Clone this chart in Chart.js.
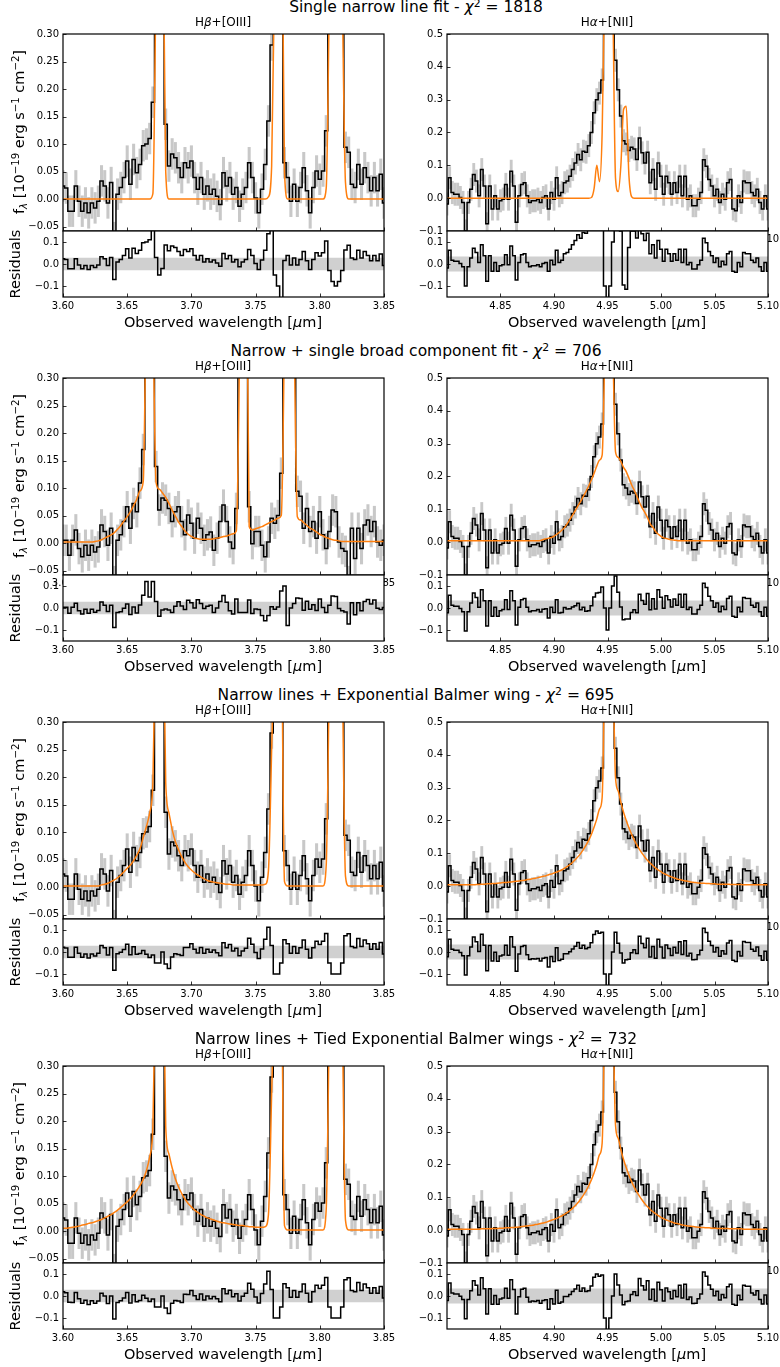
<!DOCTYPE html>
<html>
<head>
<meta charset="utf-8">
<script src="https://cdn.jsdelivr.net/npm/chart.js@4.4.0/dist/chart.umd.min.js"></script>
<style>
  body { margin: 0; background: #fff; width: 780px; height: 1367px; position: relative; overflow: hidden; font-family: "DejaVu Sans", sans-serif; }
  canvas { position: absolute; }
  .t { position: absolute; white-space: nowrap; color: #000; z-index: 5; line-height: 1; }
  .t sup { font-size: 70%; position: relative; top: -0.5em; line-height: 0; vertical-align: baseline; }
  .t sub { font-size: 70%; position: relative; top: 0.3em; line-height: 0; vertical-align: baseline; }
</style>
</head>
<body>
<script>
// --- spectral grids (uniform pixel grid) ---
const waveStartL = 3.600, waveStartR = 4.800, waveStep = 0.0025;

// Hb+[OIII] spectrum, rows 1, 3, 4
const fluxA = [
  0.024, 0.020, -0.022, -0.022, 0.024, -0.004, -0.022, -0.007, -0.025, -0.007,
  -0.016, -0.004, 0.033, 0.024, -0.007, 0.030, -0.070, 0.009, 0.021, 0.039,
  0.069, 0.027, 0.072, 0.048, 0.063, 0.097, 0.100, 0.110, 0.176, 0.450,
  0.900, 0.600, 0.136, 0.060, 0.082, 0.075, 0.057, 0.039, 0.066, 0.057,
  0.069, 0.039, 0.018, 0.039, 0.009, 0.024, 0.009, 0.018, 0.005, -0.010,
  0.048, 0.024, 0.039, 0.009, 0.021, -0.013, 0.009, 0.021, 0.066, 0.039,
  0.002, -0.025, 0.018, 0.063, 0.142, 0.280, 0.400, 0.900, 0.500, 0.066,
  0.039, -0.004, 0.027, -0.004, 0.021, 0.057, 0.015, -0.025, 0.021, 0.051,
  0.036, 0.051, 0.124, 0.350, 0.700, 0.900, 0.700, 0.350, 0.094, 0.085,
  0.027, 0.021, 0.063, 0.027, 0.057, 0.039, 0.015, 0.039, 0.015, 0.045,
  -0.007
];
// Hb+[OIII] spectrum as shown in row 2
const fluxB = [
  0.005, 0.005, -0.022, 0.005, 0.024, -0.010, -0.025, -0.004, -0.022, -0.004,
  -0.016, -0.007, 0.033, 0.021, -0.004, 0.027, -0.070, 0.005, 0.015, 0.039,
  0.066, 0.027, 0.072, 0.057, 0.109, 0.170, 0.620, 1.050, 0.570, 0.139,
  0.060, 0.082, 0.078, 0.063, 0.039, 0.057, 0.066, 0.039, 0.015, 0.051,
  0.036, 0.009, 0.045, 0.027, 0.005, 0.015, 0.020, -0.013, 0.009, 0.039,
  0.069, 0.039, 0.002, -0.010, 0.063, 0.330, 0.930, 0.680, 0.066, -0.001,
  0.021, 0.021, -0.004, -0.025, 0.002, 0.045, 0.036, 0.050, 0.127, 0.500,
  1.020, 1.000, 0.420, 0.094, 0.085, 0.027, 0.063, 0.021, 0.039, 0.009,
  0.057, 0.015, -0.010, 0.021, 0.060, 0.057, 0.002, -0.010, -0.015, -0.070,
  0.027, -0.028, 0.027, -0.010, 0.033, 0.042, 0.021, 0.039, 0.002, -0.004,
  0.005
];
// Ha+[NII] spectrum
const fluxR = [
  -0.018, 0.062, 0.017, 0.012, 0.012, 0.002, -0.013, -0.100, -0.013, 0.027,
  0.072, 0.052, 0.007, 0.087, 0.037, -0.078, 0.037, -0.033, 0.007, -0.033,
  -0.008, -0.003, 0.042, -0.003, 0.082, 0.037, -0.073, 0.007, 0.042, 0.047,
  0.007, -0.013, -0.008, -0.008, -0.003, -0.013, 0.002, 0.007, -0.033, 0.017,
  -0.003, 0.062, 0.007, 0.017, 0.047, 0.052, 0.067, 0.087, 0.107, 0.133,
  0.117, 0.143, 0.140, 0.160, 0.200, 0.260, 0.300, 0.320, 0.360, 0.600,
  1.000, 1.000, 0.700, 0.420, 0.330, 0.250, 0.175, 0.165, 0.145, 0.155,
  0.150, 0.118, 0.183, 0.138, 0.107, 0.140, 0.047, 0.087, 0.027, 0.107,
  0.067, 0.012, 0.067, 0.047, 0.012, 0.047, 0.017, 0.067, 0.007, 0.067,
  -0.003, 0.007, -0.023, -0.023, -0.003, 0.017, 0.117, 0.097, 0.057, 0.037,
  0.007, 0.027, -0.013, 0.012, -0.003, 0.047, 0.057, -0.033, -0.038, 0.007,
  -0.013, 0.052, 0.047, 0.047, 0.017, 0.007, 0.027, -0.013, -0.033, 0.007,
  -0.033
];
const errL = 0.028, errR = 0.034;

// --- fitted models, one per row ---
const modelL1 = [
  0,0,0,0,0,0,0,0,0,0, 0,0,0,0,0,0,0,0,0,0,
  0,0,0,0,0,0,0,0,0.010,0.420, 0.950,0.620,0.050,0,0,0,0,0,0,0,
  0,0,0,0,0,0,0,0,0,0, 0,0,0,0,0,0,0,0,0,0,
  0,0,0,0,0.004,0.060,0.450,1.000,0.700,0.050, 0,0,0,0,0,0,0,0,0,0,
  0,0,0.020,0.380,0.780,1.000,0.780,0.380,0.030,0, 0,0,0,0,0,0,0,0,0,0,
  0
];
const modelL2 = [
  0.002,0.002,0.002,0.002,0.002,0.002,0.002,0.002,0.002,0.002,
  0.003,0.004,0.006,0.009,0.012,0.015,0.019,0.025,0.032,0.040,
  0.048,0.057,0.068,0.080,0.095,0.112,0.500,1.000,0.450,0.110,
  0.098,0.091,0.083,0.072,0.060,0.049,0.038,0.030,0.022,0.016,
  0.012,0.009,0.008,0.007,0.007,0.007,0.007,0.008,0.009,0.010,
  0.012,0.013,0.015,0.017,0.022,0.350,0.950,0.700,0.030,0.024,
  0.026,0.028,0.030,0.033,0.036,0.039,0.042,0.045,0.050,0.400,
  1.100,1.000,0.400,0.048,0.042,0.037,0.032,0.027,0.024,0.020,
  0.016,0.013,0.010,0.008,0.006,0.005,0.004,0.003,0.003,0.003,
  0.003,0.003,0.003,0.003,0.003,0.003,0.003,0.003,0.003,0.003,
  0.003
];
const modelL3 = [
  0.002,0.002,0.002,0.002,0.002,0.002,0.002,0.002,0.002,0.002,
  0.002,0.002,0.004,0.005,0.007,0.010,0.013,0.017,0.022,0.028,
  0.034,0.040,0.048,0.058,0.070,0.090,0.110,0.135,0.190,0.500,
  0.950,0.600,0.190,0.135,0.105,0.083,0.068,0.055,0.045,0.037,
  0.031,0.026,0.022,0.018,0.015,0.012,0.010,0.009,0.008,0.007,
  0.006,0.005,0.005,0.004,0.004,0.004,0.004,0.004,0.004,0.004,
  0.004,0.004,0.004,0.005,0.030,0.250,0.500,1.000,0.550,0.010,
  0.002,0.002,0.002,0.002,0.002,0.002,0.002,0.002,0.002,0.002,
  0.002,0.002,0.040,0.400,0.800,1.000,0.800,0.400,0.020,0.002,
  0.002,0.002,0.002,0.002,0.002,0.002,0.002,0.002,0.002,0.002,
  0.002
];
const modelL4 = [
  0.005,0.005,0.006,0.007,0.008,0.009,0.011,0.012,0.014,0.015,
  0.017,0.019,0.021,0.024,0.027,0.030,0.034,0.038,0.043,0.048,
  0.053,0.059,0.066,0.074,0.083,0.094,0.110,0.135,0.190,0.500,
  0.950,0.600,0.190,0.140,0.115,0.095,0.080,0.068,0.058,0.050,
  0.044,0.038,0.034,0.030,0.027,0.024,0.022,0.020,0.018,0.016,
  0.015,0.014,0.013,0.012,0.011,0.010,0.010,0.009,0.008,0.008,
  0.007,0.007,0.007,0.008,0.030,0.250,0.500,1.000,0.550,0.010,
  0.002,0.002,0.002,0.002,0.002,0.002,0.002,0.002,0.002,0.002,
  0.002,0.002,0.040,0.400,0.800,1.000,0.800,0.400,0.020,0.002,
  0.002,0.002,0.002,0.002,0.002,0.002,0.002,0.002,0.002,0.002,
  0.002
];
const modelR1 = [
  0,0,0,0,0,0,0,0,0,0, 0,0,0,0,0,0,0,0,0,0, 0,0,0,0,0,0,0,0,0,0,
  0,0,0,0,0,0,0,0,0,0, 0,0,0,0,0,0,0,0,0,0,
  0,0,0,0,0.002,0.030,0.100,0.050,0.200,0.700,
  1.200,1.100,0.600,0.060,0.020,0.100,0.270,0.280,0.070,0.005,
  0,0,0,0,0,0,0,0,0,0, 0,0,0,0,0,0,0,0,0,0, 0,0,0,0,0,0,0,0,0,0,
  0,0,0,0,0,0,0,0,0,0, 0,0,0,0,0,0,0,0,0,0,
  0
];
const modelR2 = [
  0.004,0.004,0.004,0.004,0.004,0.004,0.004,0.004,0.004,0.004,
  0.004,0.004,0.004,0.004,0.004,0.004,0.004,0.004,0.004,0.004,
  0.004,0.004,0.004,0.004,0.004,0.004,0.004,0.004,0.004,0.004,
  0.004,0.004,0.004,0.004,0.004,0.005,0.008,0.010,0.012,0.014,
  0.018,0.024,0.030,0.037,0.045,0.057,0.070,0.083,0.097,0.111,
  0.125,0.140,0.155,0.172,0.190,0.210,0.232,0.250,0.265,0.600,
  1.100,1.000,0.600,0.275,0.258,0.245,0.228,0.215,0.195,0.175,
  0.158,0.140,0.120,0.104,0.090,0.074,0.055,0.045,0.032,0.024,
  0.018,0.013,0.011,0.009,0.007,0.006,0.005,0.004,0.004,0.004,
  0.004,0.004,0.004,0.004,0.004,0.004,0.004,0.004,0.004,0.004,
  0.004,0.004,0.004,0.004,0.004,0.004,0.004,0.004,0.004,0.004,
  0.004,0.004,0.004,0.004,0.004,0.004,0.004,0.004,0.004,0.004,
  0.004
];
const modelR3 = [
  0.004,0.004,0.004,0.004,0.004,0.004,0.004,0.004,0.004,0.004,
  0.004,0.005,0.005,0.006,0.006,0.007,0.007,0.008,0.008,0.009,
  0.010,0.011,0.011,0.012,0.013,0.014,0.015,0.016,0.017,0.018,
  0.020,0.021,0.023,0.024,0.026,0.028,0.030,0.032,0.035,0.037,
  0.040,0.043,0.046,0.050,0.055,0.060,0.066,0.073,0.081,0.090,
  0.100,0.112,0.125,0.140,0.158,0.180,0.205,0.235,0.270,0.700,
  1.200,1.100,0.700,0.330,0.290,0.255,0.225,0.200,0.178,0.158,
  0.140,0.125,0.111,0.099,0.088,0.078,0.070,0.062,0.055,0.049,
  0.044,0.039,0.035,0.031,0.028,0.025,0.022,0.020,0.018,0.016,
  0.015,0.013,0.012,0.011,0.010,0.009,0.009,0.008,0.008,0.007,
  0.007,0.006,0.006,0.006,0.006,0.006,0.005,0.005,0.005,0.005,
  0.005,0.004,0.004,0.004,0.004,0.004,0.004,0.004,0.004,0.004,
  0.004
];
const modelR4 = [
  0.003,0.003,0.003,0.003,0.003,0.003,0.003,0.003,0.003,0.003,
  0.003,0.003,0.003,0.004,0.004,0.004,0.004,0.005,0.005,0.005,
  0.006,0.006,0.007,0.007,0.008,0.008,0.009,0.010,0.011,0.012,
  0.013,0.014,0.015,0.017,0.018,0.020,0.022,0.024,0.027,0.030,
  0.033,0.036,0.040,0.044,0.049,0.054,0.060,0.067,0.075,0.084,
  0.095,0.107,0.120,0.136,0.154,0.175,0.200,0.230,0.265,0.700,
  1.200,1.100,0.700,0.320,0.280,0.245,0.215,0.190,0.168,0.148,
  0.131,0.116,0.103,0.091,0.080,0.071,0.063,0.056,0.050,0.044,
  0.039,0.035,0.031,0.028,0.025,0.022,0.020,0.018,0.016,0.014,
  0.013,0.012,0.011,0.010,0.009,0.008,0.008,0.007,0.007,0.006,
  0.006,0.005,0.005,0.005,0.005,0.005,0.004,0.004,0.004,0.004,
  0.004,0.003,0.003,0.003,0.003,0.003,0.003,0.003,0.003,0.003,
  0.003
];

// --- text and ticks ---
const rowTitles = [
  'Single narrow line fit - <i>χ</i><sup>2</sup> = 1818',
  'Narrow + single broad component fit - <i>χ</i><sup>2</sup> = 706',
  'Narrow lines + Exponential Balmer wing - <i>χ</i><sup>2</sup> = 695',
  'Narrow lines + Tied Exponential Balmer wings - <i>χ</i><sup>2</sup> = 732'
];
const panelTitles = ['H<i>β</i>+[OIII]', 'H<i>α</i>+[NII]'];
const xTicksL = [3.60, 3.65, 3.70, 3.75, 3.80, 3.85];
const xLabelsL = ['3.60', '3.65', '3.70', '3.75', '3.80', '3.85'];
const xTicksR = [4.85, 4.90, 4.95, 5.00, 5.05, 5.10];
const xLabelsR = ['4.85', '4.90', '4.95', '5.00', '5.05', '5.10'];
const yTicksL = [-0.05, 0.00, 0.05, 0.10, 0.15, 0.20, 0.25, 0.30];
const yLabelsL = ['\u22120.05', '0.00', '0.05', '0.10', '0.15', '0.20', '0.25', '0.30'];
const yTicksR = [-0.1, 0.0, 0.1, 0.2, 0.3, 0.4, 0.5];
const yLabelsR = ['\u22120.1', '0.0', '0.1', '0.2', '0.3', '0.4', '0.5'];
const yTicksRes = [-0.1, 0.0, 0.1];
const yLabelsRes = ['\u22120.1', '0.0', '0.1'];

const ORANGE = '#ff7f0e', GREY = '#c8c8c8', BAND = '#d0d0d0';
const TICK_FONT = 10;
Chart.defaults.font.family = '"DejaVu Sans", sans-serif';

const waveL = fluxA.map((_, i) => +(waveStartL + i * waveStep).toFixed(4));
const waveR = fluxR.map((_, i) => +(waveStartR + i * waveStep).toFixed(4));
const pts = (xs, ys) => xs.map((x, i) => ({ x: x, y: ys[i] }));

// frame, inward ticks, white axes patch
const framePlugin = {
  id: 'frame',
  beforeDraw(chart, args, o) {
    if (!o.white) return;
    const a = chart.chartArea, c = chart.ctx;
    c.save();
    c.fillStyle = '#fff';
    c.fillRect(a.left, a.top, a.right - a.left, a.bottom - a.top);
    c.restore();
  },
  afterDatasetsDraw(chart) {
    const a = chart.chartArea, c = chart.ctx;
    const xs = chart.scales.x, ys = chart.scales.y;
    c.save();
    c.strokeStyle = '#000';
    c.lineWidth = 0.8;
    c.beginPath();
    xs.ticks.forEach(t => {
      const px = Math.round(xs.getPixelForValue(t.value)) + 0.5;
      c.moveTo(px, a.bottom); c.lineTo(px, a.bottom - 3.5);
    });
    ys.ticks.forEach(t => {
      const py = Math.round(ys.getPixelForValue(t.value)) + 0.5;
      c.moveTo(a.left, py); c.lineTo(a.left + 3.5, py);
    });
    c.stroke();
    c.lineWidth = 1.2;
    c.strokeRect(a.left, a.top, a.right - a.left, a.bottom - a.top);
    c.restore();
  }
};

function makePanel(p) {
  const ML = 60, MT = 6, MR = 24, MB = 22;
  const cv = document.createElement('canvas');
  cv.width = p.w + ML + MR;
  cv.height = p.h + MT + MB;
  cv.style.left = (p.x - ML) + 'px';
  cv.style.top = (p.y - MT) + 'px';
  cv.style.zIndex = p.z;
  document.body.appendChild(cv);
  return new Chart(cv, {
    type: 'line',
    data: { datasets: p.datasets },
    options: {
      responsive: false, animation: false, devicePixelRatio: 1, events: [],
      layout: { padding: { left: 0, right: MR, top: MT, bottom: 0 } },
      plugins: { legend: { display: false }, tooltip: { enabled: false }, frame: { white: p.white } },
      scales: {
        x: {
          type: 'linear', min: p.xMin, max: p.xMax, offset: false,
          grid: { display: false, drawTicks: false }, border: { display: false },
          ticks: { display: p.showX, color: '#000', font: { size: TICK_FONT }, padding: p.xPad,
                   maxRotation: 0, autoSkip: false, callback: (v, i) => p.xLabels[i] },
          afterBuildTicks: s => { s.ticks = p.xTicks.map(v => ({ value: v })); },
          afterFit: s => { s.height = MB; s.paddingLeft = 0; s.paddingRight = 0; }
        },
        y: {
          type: 'linear', min: p.yMin, max: p.yMax,
          grid: { display: false, drawTicks: false }, border: { display: false },
          ticks: { color: '#000', font: { size: TICK_FONT }, padding: 4, callback: (v, i) => p.yLabels[i] },
          afterBuildTicks: s => { s.ticks = p.yTicks.map(v => ({ value: v })); },
          afterFit: s => { s.width = ML; s.paddingTop = 0; s.paddingBottom = 0; }
        }
      }
    },
    plugins: [framePlugin]
  });
}

function mainSets(wave, flux, model, err, barW) {
  return [
    { type: 'line', data: pts(wave, model), borderColor: ORANGE, borderWidth: 1.5, pointRadius: 0,
      cubicInterpolationMode: 'monotone', order: 1, clip: 0 },
    { type: 'line', data: pts(wave, flux), borderColor: '#000', borderWidth: 1.5, pointRadius: 0,
      stepped: 'middle', order: 2, clip: 0 },
    { type: 'bar', data: wave.map((x, i) => ({ x: x, y: [flux[i] - err, flux[i] + err] })),
      backgroundColor: GREY, barThickness: barW, order: 3 }
  ];
}
function residSets(wave, flux, model, err) {
  const res = flux.map((f, i) => f - model[i]);
  return [
    { type: 'line', data: pts(wave, res), borderColor: '#000', borderWidth: 1.5, pointRadius: 0,
      stepped: 'middle', order: 1, clip: 0 },
    { type: 'line', data: wave.map(x => ({ x: x, y: err })), borderWidth: 0, pointRadius: 0,
      backgroundColor: BAND, fill: '+1', order: 2 },
    { type: 'line', data: wave.map(x => ({ x: x, y: -err })), borderWidth: 0, pointRadius: 0, order: 3 }
  ];
}

function text(html, x, y, size, rotate) {
  const d = document.createElement('div');
  d.className = 't';
  d.innerHTML = html;
  d.style.left = x + 'px';
  d.style.top = y + 'px';
  d.style.fontSize = size + 'px';
  d.style.transform = 'translate(-50%, -50%)' + (rotate ? ' rotate(-90deg)' : '');
  document.body.appendChild(d);
}

const rows = [
  { fluxL: fluxA, modelL: modelL1, modelR: modelR1, leftXLab: false },
  { fluxL: fluxB, modelL: modelL2, modelR: modelR2, leftXLab: true },
  { fluxL: fluxA, modelL: modelL3, modelR: modelR3, leftXLab: false },
  { fluxL: fluxA, modelL: modelL4, modelR: modelR4, leftXLab: false }
];

const ROW_STEP = 344, MAIN_TOP = 34, MAIN_H = 197, RES_H = 66, PLOT_W = 321;
const LEFT_X = 63, RIGHT_X = 447;

rows.forEach((r, k) => {
  const off = k * ROW_STEP;
  const mainTop = MAIN_TOP + off, resTop = MAIN_TOP + MAIN_H + off;
  // left column
  makePanel({ x: LEFT_X, y: mainTop, w: PLOT_W, h: MAIN_H, z: 1, white: false,
    xMin: 3.60, xMax: 3.85, xTicks: xTicksL, xLabels: xLabelsL, showX: r.leftXLab, xPad: 2,
    yMin: -0.058, yMax: 0.30, yTicks: yTicksL, yLabels: yLabelsL,
    datasets: mainSets(waveL, r.fluxL, r.modelL, errL, 2.4) });
  makePanel({ x: LEFT_X, y: resTop, w: PLOT_W, h: RES_H, z: 2, white: true,
    xMin: 3.60, xMax: 3.85, xTicks: xTicksL, xLabels: xLabelsL, showX: true, xPad: 3,
    yMin: -0.15, yMax: 0.15, yTicks: yTicksRes, yLabels: yLabelsRes,
    datasets: residSets(waveL, r.fluxL, r.modelL, errL) });
  // right column
  makePanel({ x: RIGHT_X, y: mainTop, w: PLOT_W, h: MAIN_H, z: 1, white: false,
    xMin: 4.80, xMax: 5.10, xTicks: xTicksR, xLabels: xLabelsR, showX: true, xPad: 2,
    yMin: -0.1, yMax: 0.5, yTicks: yTicksR, yLabels: yLabelsR,
    datasets: mainSets(waveR, fluxR, r.modelR, errR, 2.2) });
  makePanel({ x: RIGHT_X, y: resTop, w: PLOT_W, h: RES_H, z: 2, white: true,
    xMin: 4.80, xMax: 5.10, xTicks: xTicksR, xLabels: xLabelsR, showX: true, xPad: 3,
    yMin: -0.15, yMax: 0.15, yTicks: yTicksRes, yLabels: yLabelsRes,
    datasets: residSets(waveR, fluxR, r.modelR, errR) });

  text(rowTitles[k], 416, 8 + off, 15.5);
  text(panelTitles[0], 223, 22 + off, 12);
  text(panelTitles[1], 607, 22 + off, 12);
  text('f<sub><i>λ</i></sub> [10<sup>\u221219</sup> erg s<sup>\u22121</sup> cm<sup>\u22122</sup>]', 19, 132 + off, 14.5, true);
  text('Residuals', 15, 264 + off, 14.5, true);
  text('Observed wavelength [<i>μ</i>m]', 223, 322 + off, 14.5);
  text('Observed wavelength [<i>μ</i>m]', 607, 322 + off, 14.5);
});
</script>
</body>
</html>
